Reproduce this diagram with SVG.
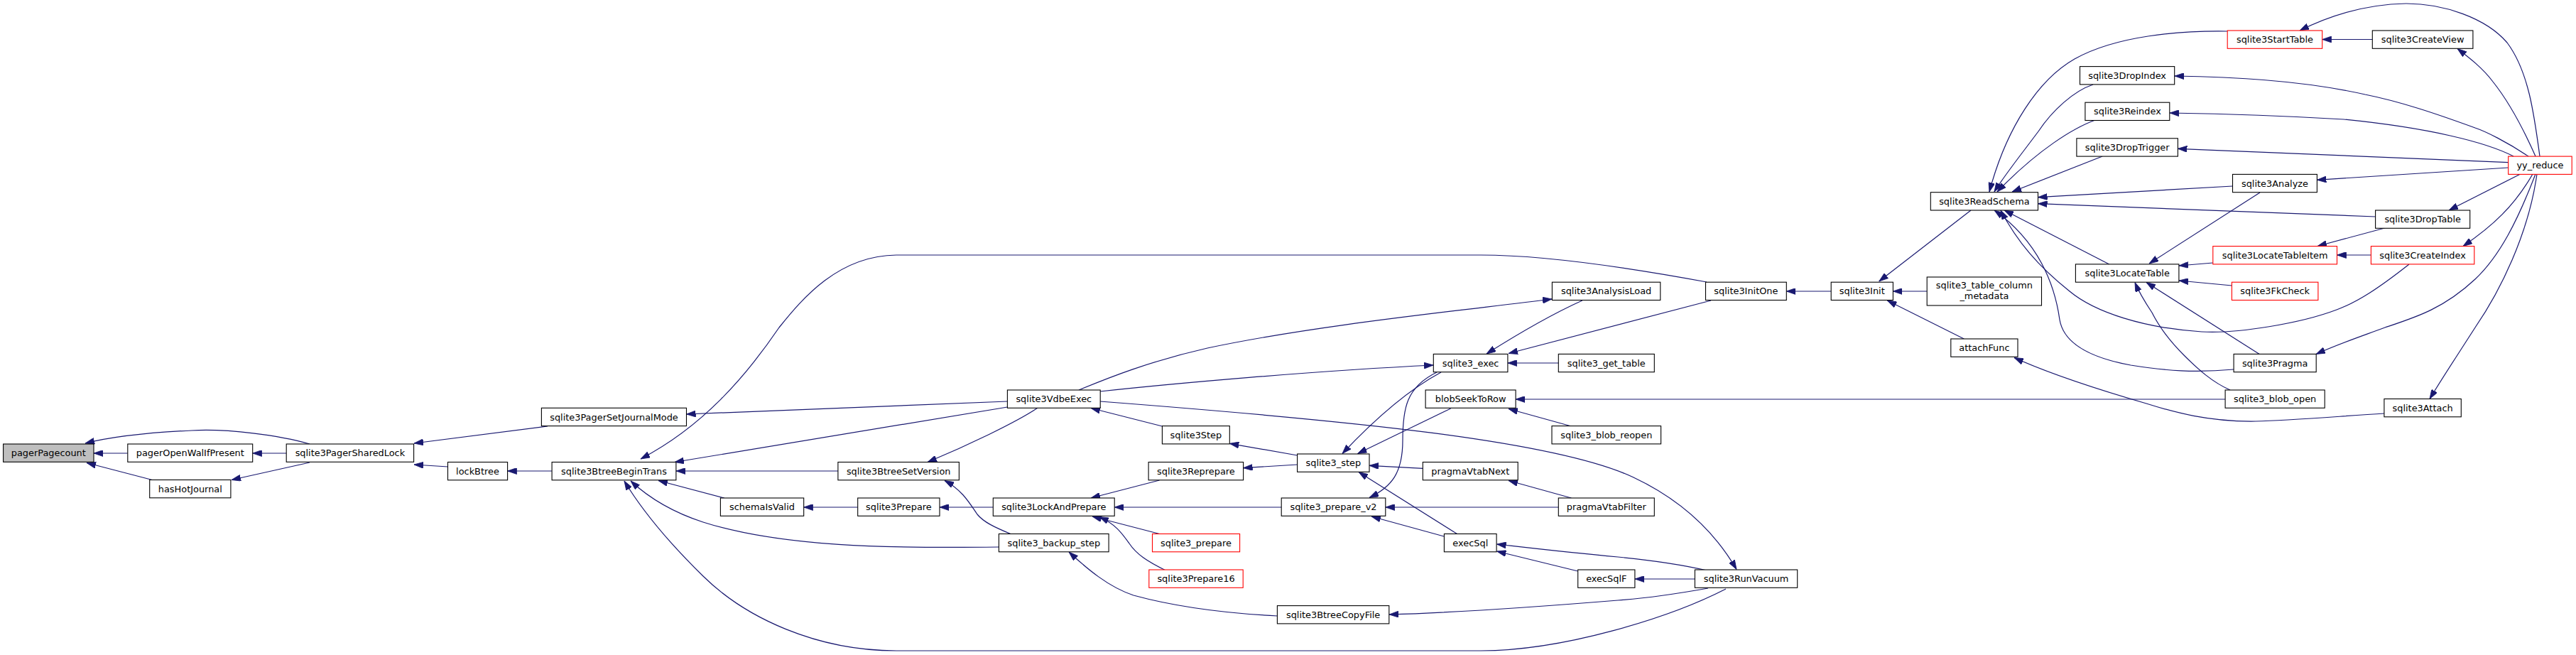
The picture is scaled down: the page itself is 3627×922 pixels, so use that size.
<svg xmlns="http://www.w3.org/2000/svg" width="3627" height="922" viewBox="0 0 3627 922">
<defs>
<marker id="ah" markerUnits="userSpaceOnUse" viewBox="0 0 13 9" refX="13" refY="4.5" markerWidth="13" markerHeight="9" orient="auto">
<path d="M0,0 L13,4.5 L0,9 Z" fill="#191970" stroke="#191970" stroke-width="0.8"/>
</marker>
</defs>
<style>
.e path{fill:none;stroke:#191970;stroke-width:1.2;marker-end:url(#ah)}
.n rect{fill:#ffffff;stroke:#000000;stroke-width:1.1}
.n.r rect{stroke:#ff0000}
.n.g rect{fill:#bfbfbf}
.n text{font-family:"DejaVu Sans","Liberation Sans",sans-serif;font-size:12.9px;fill:#000000;text-anchor:middle}
</style>
<rect width="3627" height="922" fill="#ffffff"/>
<g id="edges" class="e">
<path d="M436,625 C395,613 320,603 270,606 C205,609 160,614 120,624"/>
<path d="M179.8,638 L132,638"/>
<path d="M403.2,638 L355.7,638"/>
<path d="M216,676 L122,651.5"/>
<path d="M436,651 L326,675.5"/>
<path d="M771,600 L583,624"/>
<path d="M630.5,657 L583,654"/>
<path d="M777,663 L714.6,663"/>
<path d="M2403,397 C2300,378 2180,359 2085,359 L1262,359 C1180,360 1130,420 1097,461 C1050,530 990,600 902,646"/>
<path d="M1418.4,573 L950,650.5"/>
<path d="M1180,663 L952,663"/>
<path d="M1019.8,701 L927,676.5"/>
<path d="M1406,770 C1250,772 1100,770 990,735 C950,722 915,702 888,677"/>
<path d="M2430,829 C2350,870 2200,916 2085,916 L1262,916 C1150,916 1050,870 990,811 C940,762 905,720 879,677"/>
<path d="M1207.7,714 L1131.7,714"/>
<path d="M1418.4,565 L966.5,583"/>
<path d="M1460.8,574.3 C1430,595 1360,628 1306,650.5"/>
<path d="M1424,752 C1400,742 1385,735 1376,724 C1365,708 1355,690 1330,676.5"/>
<path d="M1398.3,714 L1323,714"/>
<path d="M1632.5,676 L1536,701"/>
<path d="M1804.2,714 L1569.2,714"/>
<path d="M1634.4,752 L1538,727"/>
<path d="M1641.4,803 C1615,790 1600,780 1590,765 C1578,748 1570,738 1548,727.5"/>
<path d="M1798.4,867 C1700,862 1640,850 1596,838 C1560,826 1530,800 1505,777"/>
<path d="M1519,549 C1560,532 1620,508 1700,490 C1850,458 2050,438 2185,421"/>
<path d="M1549,551 C1650,540 1850,522 2018,514"/>
<path d="M1549,565 C1900,592 2190,620 2300,672 C2370,705 2415,750 2445,801.5"/>
<path d="M1636.4,600 L1536,574.5"/>
<path d="M1826.6,641 L1731.3,624.3"/>
<path d="M1826.6,654 L1750.6,658.7"/>
<path d="M2227.8,423 C2190,440 2150,462 2093,498"/>
<path d="M2409,423 L2124,497.5"/>
<path d="M2194.3,511 L2122.9,511"/>
<path d="M2029,524 C1990,545 1945,580 1890,638.5"/>
<path d="M2023,524 C1980,545 1975,575 1975,620 C1975,665 1960,685 1928,700.5"/>
<path d="M2042.6,575 L1911.5,638.5"/>
<path d="M2003.3,659.3 L1928,655.3"/>
<path d="M2052.3,752 L1913,664.5"/>
<path d="M2194.3,714 L1950.8,714"/>
<path d="M2033,755 L1931,727"/>
<path d="M2212.4,600 L2124,575.5"/>
<path d="M3133,562 L2134.1,562"/>
<path d="M2212.4,701 L2124,676.5"/>
<path d="M2403.4,803 C2360,793 2320,788 2278,784 C2210,778 2160,772 2107.5,766"/>
<path d="M2221.7,804 L2107.5,776"/>
<path d="M2386.4,815 L2302,815"/>
<path d="M2405,828 C2360,836 2320,842 2278,845 C2180,853 2060,862 1956,865"/>
<path d="M2775,296 L2645.7,396"/>
<path d="M2578.2,410 L2515.3,410"/>
<path d="M2713.2,410 L2665.4,410"/>
<path d="M2765.3,477 L2657.3,423"/>
<path d="M3136,44 C3070,43 2980,50 2921,83 C2870,112 2825,180 2801,270"/>
<path d="M2947,119 C2920,128 2890,155 2870,185 C2840,225 2820,250 2808,270"/>
<path d="M2950,169 C2920,180 2870,210 2812,270"/>
<path d="M2960.2,220 L2833,270"/>
<path d="M3143.5,262 L2869.5,277.7"/>
<path d="M3344.6,305 L2869.5,286.7"/>
<path d="M2969.8,372 L2822,296"/>
<path d="M3145,520 C3090,525 3050,522 3000,514 C2935,502 2905,480 2900,450 C2893,400 2870,340 2808,296"/>
<path d="M3392,372 C3350,405 3320,425 3290,436 C3240,455 3150,470 3100,467 C3020,462 2950,440 2914,410 C2870,375 2840,340 2817,296"/>
<path d="M3182,271 L3026,371"/>
<path d="M3115.8,370 L3068,374"/>
<path d="M3142.4,402 L3068,395"/>
<path d="M3182,499 L3022,397.5"/>
<path d="M3140,549 C3115,538 3095,520 3075,500 C3055,480 3040,460 3030,440 C3020,425 3012,412 3006,397.5"/>
<path d="M3357.7,321 L3263,346.5"/>
<path d="M3338.4,359 L3290.5,359"/>
<path d="M3531.7,236 L3262.4,253.3"/>
<path d="M3548.7,245 L3448,296"/>
<path d="M3566,245 C3540,290 3510,318 3468,346.5"/>
<path d="M3572,245 C3560,330 3520,410 3485,461 C3460,500 3440,530 3421,561.5"/>
<path d="M3570,245 C3545,310 3520,360 3485,393 C3440,435 3400,447 3358,461 C3320,475 3290,485 3261,498.5"/>
<path d="M3531.7,228.7 L3066.4,209.3"/>
<path d="M3539,220 C3500,200 3420,180 3300,168 C3200,162 3120,160 3055,159"/>
<path d="M3560,220 C3530,200 3500,185 3485,180 C3430,160 3380,143 3330,133 C3250,115 3150,108 3062,107"/>
<path d="M3570,220 C3550,175 3530,140 3510,115 C3495,95 3475,80 3460,68.5"/>
<path d="M3576,220 C3568,160 3560,100 3530,60 C3500,25 3440,5 3388,5 C3330,6 3280,22 3238,43"/>
<path d="M3340.3,55.5 L3269.7,55.5"/>
<path d="M3357,582 C3280,587 3220,592 3176,593 C3110,594 3060,580 3022,568 C2960,550 2890,528 2836,503.5"/>
</g>
<g id="n1" class="n g"><rect x="4.6" y="625" width="127.4" height="25.3"/><text x="68.3" y="642.2">pagerPagecount</text></g>
<g id="n2" class="n"><rect x="179.8" y="625" width="175.9" height="25.3"/><text x="267.8" y="642.2">pagerOpenWalIfPresent</text></g>
<g id="n3" class="n"><rect x="210.7" y="675.5" width="114.2" height="25.3"/><text x="267.8" y="692.7">hasHotJournal</text></g>
<g id="n4" class="n"><rect x="403.2" y="625" width="179.4" height="25.3"/><text x="492.9" y="642.2">sqlite3PagerSharedLock</text></g>
<g id="n5" class="n"><rect x="762.4" y="574.3" width="204.1" height="25.3"/><text x="864.5" y="591.5">sqlite3PagerSetJournalMode</text></g>
<g id="n6" class="n"><rect x="630.5" y="650.5" width="84.1" height="25.3"/><text x="672.5" y="667.7">lockBtree</text></g>
<g id="n7" class="n"><rect x="777.1" y="650.5" width="174.8" height="25.3"/><text x="864.5" y="667.7">sqlite3BtreeBeginTrans</text></g>
<g id="n8" class="n"><rect x="1014.4" y="701" width="117.3" height="25.3"/><text x="1073" y="718.2">schemaIsValid</text></g>
<g id="n9" class="n"><rect x="1179.9" y="650.5" width="170.5" height="25.3"/><text x="1265.2" y="667.7">sqlite3BtreeSetVersion</text></g>
<g id="n10" class="n"><rect x="1418.4" y="549" width="130.8" height="25.3"/><text x="1483.8" y="566.2">sqlite3VdbeExec</text></g>
<g id="n11" class="n"><rect x="1636.4" y="599.6" width="94.9" height="25.3"/><text x="1683.9" y="616.8">sqlite3Step</text></g>
<g id="n12" class="n"><rect x="1617.1" y="650.5" width="133.5" height="25.3"/><text x="1683.9" y="667.7">sqlite3Reprepare</text></g>
<g id="n13" class="n"><rect x="1207.7" y="701" width="115.3" height="25.3"/><text x="1265.4" y="718.2">sqlite3Prepare</text></g>
<g id="n14" class="n"><rect x="1398.3" y="701" width="170.9" height="25.3"/><text x="1483.8" y="718.2">sqlite3LockAndPrepare</text></g>
<g id="n15" class="n"><rect x="1406.4" y="751.5" width="154.7" height="25.3"/><text x="1483.8" y="768.7">sqlite3_backup_step</text></g>
<g id="n16" class="n r"><rect x="1622.5" y="751.5" width="123.1" height="25.3"/><text x="1684" y="768.7">sqlite3_prepare</text></g>
<g id="n17" class="n r"><rect x="1617.8" y="802" width="132.4" height="25.3"/><text x="1684" y="819.2">sqlite3Prepare16</text></g>
<g id="n18" class="n"><rect x="1798.4" y="852.6" width="157.4" height="25.3"/><text x="1877.1" y="869.8">sqlite3BtreeCopyFile</text></g>
<g id="n19" class="n"><rect x="2018.3" y="498.4" width="104.6" height="25.3"/><text x="2070.6" y="515.6">sqlite3_exec</text></g>
<g id="n20" class="n"><rect x="2194.3" y="498.4" width="135" height="25.3"/><text x="2261.8" y="515.6">sqlite3_get_table</text></g>
<g id="n21" class="n"><rect x="2007.1" y="549" width="127" height="25.3"/><text x="2070.6" y="566.2">blobSeekToRow</text></g>
<g id="n22" class="n"><rect x="2185" y="599.6" width="153.6" height="25.3"/><text x="2261.8" y="616.8">sqlite3_blob_reopen</text></g>
<g id="n23" class="n"><rect x="1826.6" y="639" width="101.4" height="25.3"/><text x="1877.3" y="656.2">sqlite3_step</text></g>
<g id="n24" class="n"><rect x="2003.3" y="650.5" width="133.9" height="25.3"/><text x="2070.3" y="667.7">pragmaVtabNext</text></g>
<g id="n25" class="n"><rect x="1804.2" y="701" width="146.6" height="25.3"/><text x="1877.5" y="718.2">sqlite3_prepare_v2</text></g>
<g id="n26" class="n"><rect x="2194.3" y="701" width="135" height="25.3"/><text x="2261.8" y="718.2">pragmaVtabFilter</text></g>
<g id="n27" class="n"><rect x="2033.4" y="751.5" width="73.7" height="25.3"/><text x="2070.3" y="768.7">execSql</text></g>
<g id="n28" class="n"><rect x="2221.7" y="802" width="80.2" height="25.3"/><text x="2261.8" y="819.2">execSqlF</text></g>
<g id="n29" class="n"><rect x="2386.4" y="802" width="144.3" height="25.3"/><text x="2458.6" y="819.2">sqlite3RunVacuum</text></g>
<g id="n30" class="n"><rect x="2185.4" y="397.2" width="152.4" height="25.3"/><text x="2261.6" y="414.4">sqlite3AnalysisLoad</text></g>
<g id="n31" class="n"><rect x="2401.5" y="397.2" width="113.8" height="25.3"/><text x="2458.4" y="414.4">sqlite3InitOne</text></g>
<g id="n32" class="n"><rect x="2578.2" y="397.2" width="87.2" height="25.3"/><text x="2621.8" y="414.4">sqlite3Init</text></g>
<g id="n33" class="n"><rect x="2713.2" y="390" width="161.3" height="40"/><text x="2793.9" y="406.2">sqlite3_table_column</text><text x="2793.9" y="421.2">_metadata</text></g>
<g id="n34" class="n"><rect x="2746.8" y="477" width="94.2" height="25.3"/><text x="2793.9" y="494.2">attachFunc</text></g>
<g id="n35" class="n"><rect x="2718.3" y="270.7" width="151.2" height="25.3"/><text x="2793.9" y="287.9">sqlite3ReadSchema</text></g>
<g id="n36" class="n"><rect x="2928.5" y="93.6" width="133.2" height="25.3"/><text x="2995.1" y="110.8">sqlite3DropIndex</text></g>
<g id="n37" class="n"><rect x="2935.9" y="144.2" width="118.9" height="25.3"/><text x="2995.4" y="161.4">sqlite3Reindex</text></g>
<g id="n38" class="n"><rect x="2923.9" y="194.8" width="142.5" height="25.3"/><text x="2995.2" y="212">sqlite3DropTrigger</text></g>
<g id="n39" class="n"><rect x="2922.4" y="371.9" width="145.5" height="25.3"/><text x="2995.2" y="389.1">sqlite3LocateTable</text></g>
<g id="n40" class="n r"><rect x="3136.2" y="43" width="133.5" height="25.3"/><text x="3203" y="60.2">sqlite3StartTable</text></g>
<g id="n41" class="n"><rect x="3340.3" y="43" width="141.6" height="25.3"/><text x="3411.1" y="60.2">sqlite3CreateView</text></g>
<g id="n42" class="n r"><rect x="3531.7" y="220.1" width="89.5" height="25.3"/><text x="3576.5" y="237.3">yy_reduce</text></g>
<g id="n43" class="n"><rect x="3143.5" y="245.4" width="118.9" height="25.3"/><text x="3203" y="262.6">sqlite3Analyze</text></g>
<g id="n44" class="n"><rect x="3344.6" y="296" width="133.1" height="25.3"/><text x="3411.2" y="313.2">sqlite3DropTable</text></g>
<g id="n45" class="n r"><rect x="3115.8" y="346.6" width="174.7" height="25.3"/><text x="3203.2" y="363.8">sqlite3LocateTableItem</text></g>
<g id="n46" class="n r"><rect x="3338.4" y="346.6" width="145.4" height="25.3"/><text x="3411.1" y="363.8">sqlite3CreateIndex</text></g>
<g id="n47" class="n r"><rect x="3142.4" y="397.2" width="121.5" height="25.3"/><text x="3203.2" y="414.4">sqlite3FkCheck</text></g>
<g id="n48" class="n"><rect x="3145.1" y="498.4" width="116.1" height="25.3"/><text x="3203.2" y="515.6">sqlite3Pragma</text></g>
<g id="n49" class="n"><rect x="3133.1" y="549" width="140.1" height="25.3"/><text x="3203.2" y="566.2">sqlite3_blob_open</text></g>
<g id="n50" class="n"><rect x="3356.9" y="561.5" width="108.4" height="25.3"/><text x="3411.1" y="578.7">sqlite3Attach</text></g>
</svg>
